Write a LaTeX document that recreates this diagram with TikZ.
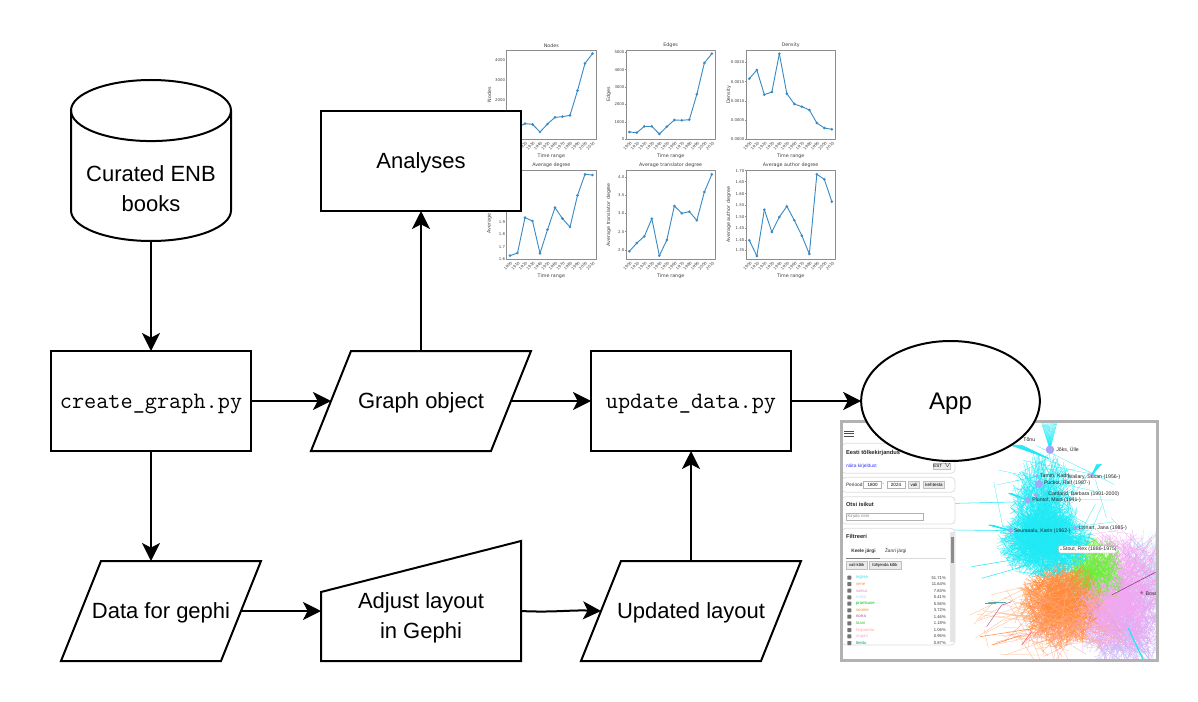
\documentclass[tikz,border=0pt]{standalone}
\usepackage{fontspec}
\setmainfont{Liberation Sans}
\newfontfamily\plotfont{DejaVu Sans}
\usetikzlibrary{
    arrows.meta,
    positioning,
    shapes.geometric
}
\definecolor{plotblue}{HTML}{3A8BC4}
\definecolor{axisgray}{HTML}{8C8C8C}
\definecolor{cardgray}{HTML}{DDDDDD}
\definecolor{netcyan}{HTML}{1FE9F5}
\definecolor{netorange}{HTML}{FF8A3C}
\definecolor{netgreen}{HTML}{6CF03A}
\definecolor{netpink}{HTML}{F2A6F0}
\definecolor{netviolet}{HTML}{C9B6F5}
\definecolor{netblue}{HTML}{B5DDF5}
\definecolor{netnode}{HTML}{A9A6F7}
\tikzset{
    every picture/.style = {
        > = {Stealth[length = 13.5pt, width = 13.5pt, inset = 3.5pt]},
        line width = 1.5pt
    },
    every node/.style = {
        inner sep = 0pt,
        outer sep = 0pt,
        align = center
    },
    procbox/.style = {
        draw,
        fill = white,
        minimum width = 150pt,
        minimum height = 75pt
    },
    iobox/.style = {
        minimum height = 75pt,
        text depth = 0pt,
        append after command = {
            \pgfextra{
                \draw[line join = miter] ([xshift = 15pt]\tikzlastnode.north west)
                    -- ([xshift = 15pt]\tikzlastnode.north east)
                    -- ([xshift = -15pt]\tikzlastnode.south east)
                    -- ([xshift = -15pt]\tikzlastnode.south west) -- cycle;
            }
        }
    },
    drumbox/.style = {
        minimum width = 120pt,
        minimum height = 120.75pt,
        append after command = {
            \pgfextra{
                \draw ([yshift = -22.9pt]\tikzlastnode.north west)
                    arc[start angle = 180, end angle = 0, x radius = 60pt, y radius = 22.9pt]
                    -- ([yshift = 22.9pt]\tikzlastnode.south east)
                    arc[start angle = 0, end angle = -180, x radius = 60pt, y radius = 22.9pt] -- cycle;
                \draw ([yshift = -22.9pt]\tikzlastnode.north west)
                    arc[start angle = 180, end angle = 360, x radius = 60pt, y radius = 22.9pt];
            }
        }
    },
    boxtext/.style = {font = \fontsize{16.5}{22.5}\selectfont},
    codetext/.style = {font = \fontsize{17.7}{18}\selectfont\ttfamily, text depth = 0pt},
    axisline/.style = {draw = axisgray, line width = .6pt},
    plotline/.style = {draw = plotblue, line width = .7pt},
    plotlabel/.style = {font = \fontsize{3.6}{4}\selectfont\plotfont, text = black!75},
    ticklabel/.style = {font = \fontsize{2.9}{3}\selectfont\plotfont, text = black!75},
    card/.style = {draw = cardgray, fill = white, line width = .6pt, rounded corners = 3pt},
    uibutton/.style = {draw = black!25, fill = black!8, line width = .4pt},
    uitext/.style = {font = \fontsize{3.6}{4}\selectfont, text = black!80, anchor = west},
    uibold/.style = {font = \fontsize{4.3}{5}\selectfont\bfseries, text = black!85, anchor = west},
    netlabel/.style = {font = \fontsize{3.9}{4}\selectfont, text = black!85, anchor = west}
}
% one small line chart, in the coordinates of the crop
\newcommand{\lineplot}[7]{
    \draw[axisline] (#2,#3) rectangle +(268,268);
    \node[plotlabel] (title#1) at ({#2+134},{#3-14}) {#4};
    \node[plotlabel] (xlabel#1) at ({#2+134},{#3+318}) {Time range};
    \node[plotlabel, rotate = 90] (ylabel#1) at ({#2-52},{#3+134}) {#5};
    \foreach \ypos [count = \k from 0] in {#6} {
        \coordinate (p#1-\k) at ({#2+10+22.5*\k},\ypos);
        \pgfmathtruncatemacro{\yearval}{1900+10*\k}
        \draw[axisline] ({#2+10+22.5*\k},{#3+268}) -- +(0,3);
        \node[ticklabel, rotate = 45, anchor = north east] (yr#1-\k) at ({#2+12+22.5*\k},{#3+274}) {\yearval};
    }
    \foreach \k in {1,...,11} {
        \pgfmathtruncatemacro{\j}{\k-1}
        \draw[plotline] (p#1-\j) -- (p#1-\k);
    }
    \foreach \k in {0,...,11} {
        \fill[plotblue] (p#1-\k) circle (1.1pt);
    }
    \foreach \tky/\tklbl in {#7} {
        \draw[axisline] (#2,\tky) -- +(-3,0);
        \node[ticklabel, anchor = east] (tick#1-\tklbl) at ({#2-5},\tky) {\tklbl};
    }
}
% a bundle of random edges of the network
\newcommand{\netburst}[6]{
    \foreach \k in {1,...,#6} {
        \pgfmathsetmacro{\anga}{360*rnd}
        \pgfmathsetmacro{\rada}{rnd^.8}
        \pgfmathsetmacro{\angb}{360*rnd}
        \pgfmathsetmacro{\radb}{rnd^.6}
        \draw[#1, line width = .18pt] ({#2+#4*\rada*cos(\anga)},{#3+#5*\rada*sin(\anga)})
            -- ({#2+#4*\radb*cos(\angb)},{#3+#5*\radb*sin(\angb)});
    }
}
\newcommand{\netfan}[6]{
    \foreach \k in {0,...,14} {
        \draw[#1, line width = .3pt] (#2,#3) -- ({#4+(#5-#4)*\k/14},#6);
    }
}
\begin{document}
\begin{tikzpicture}[x = .75pt, y = -.75pt]
    \useasboundingbox (0,0) rectangle (1198,702);

    % the six charts
    \begin{scope}[shift = {(470,30)}, x = .25pt, y = -.25pt]
        \lineplot{a}{110}{60}{Nodes}{Nodes}{290,292,281,283,306,282,262,260,256,182,100,71}{91/4000,151/3000,209/2000}
        \lineplot{b}{468}{60}{Edges}{Edges}{306,308,289,289,312,290,270,271,269,193,99,71}{67/5000,119/4000,171/3000,223/2000,276/1000,328/0}
        \lineplot{c}{828}{60}{Density}{Density}{146,120,194,186,71,191,222,230,240,279,294,298}{97/0.0020,155/0.0015,213/0.0010,271/0.0005,328/0.0000}
        \lineplot{d}{110}{420}{Average degree}{Average degree}{677,669,563,573,670,599,533,566,591,496,433,435}{575/1.9,612/1.8,650/1.7,687/1.6}
        \lineplot{e}{468}{420}{Average translator degree}{Average translator degree}{664,639,619,566,677,630,528,550,545,571,486,433}{441/4.0,496/3.5,550/3.0,605/2.5,660/2.0}
        \lineplot{f}{828}{420}{Average author degree}{Average author degree}{631,678,539,606,561,529,571,617,672,433,448,515}{422/1.70,455/1.65,491/1.60,525/1.55,560/1.50,594/1.45,630/1.40,661/1.35}
    \end{scope}

    % the app screenshot
    \begin{scope}[shift = {(835,415)}, x = .25pt, y = -.25pt]
        \pgfmathsetseed{7}
        \begin{scope}
            \clip (20,20) rectangle (965,735);
            \netburst{netblue}{930}{470}{90}{130}{110}
            \netburst{netviolet}{870}{630}{140}{150}{320}
            \netburst{netpink}{860}{530}{150}{190}{420}
            \netburst{netpink}{880}{540}{220}{240}{60}
            \netburst{netgreen}{775}{470}{100}{110}{300}
            \netburst{netorange}{680}{565}{130}{135}{620}
            \netburst{netorange!70}{650}{620}{250}{135}{80}
            \netburst{red!40}{660}{640}{230}{100}{30}
            \netburst{netpink}{800}{590}{90}{110}{90}
            \netburst{netcyan}{625}{295}{105}{190}{420}
            \netburst{netcyan}{630}{385}{150}{105}{700}
            \netburst{netcyan}{640}{270}{210}{190}{30}
            \netfan{netcyan}{645}{104}{620}{665}{25}
            \netfan{netcyan}{578}{256}{520}{530}{235}
            \netfan{netcyan}{527}{347}{460}{472}{330}
            \netfan{netcyan}{770}{180}{785}{800}{148}
            \netfan{netcyan}{640}{130}{525}{560}{90}
            \netfan{teal!70}{510}{562}{450}{455}{565}
            \draw[netcyan, line width = .4pt] (578,260) -- (360,265);
            \draw[netcyan, line width = .4pt] (527,347) -- (362,345);
            \draw[netcyan, line width = .4pt] (560,430) -- (410,455);
            \draw[netcyan, line width = .4pt] (580,450) -- (440,490);
            \draw[netcyan, line width = .9pt] (880,640) -- (925,735);
            \draw[netorange, line width = .4pt] (600,640) -- (435,665);
            \draw[netorange, line width = .4pt] (560,660) -- (470,690);
            \draw[red!60, line width = .5pt] (590,650) -- (560,690);
            \draw[violet!60, line width = .4pt] (455,635) -- (500,570) -- (530,560);
            \draw[violet!50!gray, line width = .4pt] (830,540) -- (965,470);
            \fill[netnode] (645,104) circle (3.2pt);
            \fill[netnode] (605,183) circle (1.4pt);
            \fill[netnode] (770,180) circle (1.4pt);
            \fill[netnode] (612,207) circle (3pt);
            \fill[netnode] (603,240) circle (1.5pt);
            \fill[netnode] (578,256) circle (2.2pt);
            \fill[netnode] (527,347) circle (1.7pt);
            \fill[netnode] (720,339) circle (1.5pt);
            \fill[violet!60] (920,533) circle (1.3pt);
            \node[netlabel] (lblt) at (565,75) {Tõnu};
            \node[netlabel] (lbla) at (664,103) {Jõks, Ülle};
            \node[netlabel] (lblb) at (615,183) {Tamm, Kadri};
            \node[netlabel] (lblc) at (698,187) {Wallary, Susan (1956-)};
            \node[netlabel] (lbld) at (627,205) {Puckot, Ralf (1987-)};
            \node[netlabel] (lble) at (640,238) {Cartland, Barbara (1901-2000)};
            \node[netlabel] (lblf) at (592,256) {Pluntof, Maia (1941-)};
            \node[netlabel] (lblg) at (537,348) {Seurasalu, Karin (1962-)};
            \node[netlabel] (lblh) at (731,340) {Linnart, Jana (1985-)};
            \node[netlabel] (lbli) at (932,535) {Bosc};
            \node[netlabel, draw = black!30, fill = white, line width = .3pt, rounded corners = 1.5pt,
                minimum width = 44pt, minimum height = 5.5pt, align = right] (lblj) at (670,403) {\hspace{3pt}Stout, Rex (1886-1975)};
            \fill[netcyan] (678,403) circle (.7pt);
        \end{scope}
        % left panel
        \draw[black!70, line width = .6pt] (28,48) -- (57,48) (28,55) -- (57,55) (28,63) -- (57,63);
        \draw[card] (20,85) rectangle (360,175);
        \draw[card] (20,187) rectangle (360,232);
        \draw[card] (20,245) rectangle (360,327);
        \draw[card] (20,340) rectangle (360,690);
        \node[uibold] (apptitle) at (33,115) {Eesti tõlkekirjandus};
        \node[uitext, text = blue!80] (applink) at (33,153) {näita kirjeldust};
        \node[uibutton, minimum width = 12pt, minimum height = 4.6pt, font = \fontsize{3.4}{4}\selectfont] (applang) at (321,153) {EST \,\tiny$\vee$};
        \node[uitext] (appperiod) at (33,210) {Periood:};
        \node[draw = black!30, fill = white, line width = .4pt, minimum width = 13.5pt, minimum height = 5pt, font = \fontsize{3.4}{4}\selectfont] (appfrom) at (113,210) {1800};
        \node[uitext] (appdash) at (143,210) {-};
        \node[draw = black!30, fill = white, line width = .4pt, minimum width = 13.5pt, minimum height = 5pt, font = \fontsize{3.4}{4}\selectfont] (appto) at (183,210) {2024};
        \node[uibutton, minimum width = 8.5pt, minimum height = 5pt, font = \fontsize{3.4}{4}\selectfont] (appvali) at (237,210) {vali};
        \node[uibutton, minimum width = 16pt, minimum height = 5pt, font = \fontsize{3.4}{4}\selectfont] (appkeht) at (297,210) {kehtesta};
        \node[uibold] (appsearch) at (33,269) {Otsi isikut};
        \node[draw = black!30, fill = white, line width = .4pt, minimum width = 58pt, minimum height = 5.4pt, text = black!50, font = \fontsize{3.2}{4}\selectfont, text width = 56pt, align = left] (appname) at (150,305) {Kirjuta nimi};
        \node[uibold] (appfilter) at (33,364) {Filtreeri};
        \node[uitext, font = \fontsize{3.6}{4}\selectfont\bfseries] (applangtab) at (49,408) {Keele järgi};
        \node[uitext] (appgenre) at (150,408) {Žanri järgi};
        \draw[black!15, line width = .4pt] (33,429) -- (332,429);
        \draw[black!50, line width = .7pt] (33,429) -- (135,429);
        \node[uibutton, minimum width = 16pt, minimum height = 5.8pt, font = \fontsize{3.2}{4}\selectfont] (appall) at (65,451) {vali kõik};
        \node[uibutton, minimum width = 24pt, minimum height = 5.8pt, font = \fontsize{3.2}{4}\selectfont] (appnone) at (150,451) {tühjenda kõik};
        \foreach \rowy/\rowname/\rowcol/\rowval [count = \r] in {
            488/inglise/netcyan/51.71\%,
            507/vene/netorange/11.64\%,
            527/saksa/magenta!50/7.83\%,
            547/rootsi/netblue/5.41\%,
            566/prantsuse/green!75!black/5.56\%,
            586/soome/orange!90/3.72\%,
            605/norra/violet!70/1.46\%,
            625/taani/green!50!gray/1.18\%,
            645/hispaania/red!35/1.06\%,
            664/ungari/magenta!35/0.95\%,
            684/leedu/teal!70!green/0.87\%} {
            \fill[black!55, rounded corners = .4pt] (37,{\rowy-6}) rectangle +(12,12);
            \node[uitext, text = \rowcol, font = \fontsize{3.2}{4}\selectfont] (row\r) at (63,\rowy) {\rowname};
            \node[uitext, anchor = east, font = \fontsize{3.1}{4}\selectfont] (val\r) at (332,\rowy) {\rowval};
        }
        \fill[black!10] (346,350) rectangle (359,682);
        \fill[black!45] (348,365) rectangle (357,445);
        \draw[black!30, line width = 2.25pt] (20,20) rectangle (967,736);
    \end{scope}

    % the flow chart
    \node[drumbox, boxtext, text height = 76.8pt] (books) at (151,160.5) {Curated ENB\\books};
    \node[procbox, boxtext, text depth = 0pt] (analyses) at (421,161) {Analyses};
    \node[procbox, codetext] (creategraph) at (151,401) {create\_graph.py};
    \node[iobox, minimum width = 135pt, boxtext] (graphobj) at (421,401) {Graph object};
    \node[procbox, codetext] (updatedata) [right of = graphobj, node distance = 202.5pt] {update\_data.py};
    \node[ellipse, draw, fill = white, minimum width = 134pt, minimum height = 90pt, text depth = 0pt,
        font = \fontsize{18}{22}\selectfont] (app) at (950.5,401) {App};
    \node[iobox, minimum width = 120pt, boxtext] (datagephi) at (161,611) {Data for gephi};
    \node[minimum width = 150pt, minimum height = 75pt, boxtext, text height = 44.5pt] (adjustgephi) at (421,611) {Adjust layout\\in Gephi};
    \draw[line join = miter] (adjustgephi.south west) -- (adjustgephi.south east)
        -- ([yshift = 15pt]adjustgephi.north east) -- ([yshift = -23.25pt]adjustgephi.north west) -- cycle;
    \node[iobox, minimum width = 135pt, boxtext] (updatedlayout) at (691,611) {Updated layout};

    \draw[->] (books) -- (creategraph);
    \draw[->] (creategraph) -- (graphobj);
    \draw[->] (creategraph) -- (creategraph |- datagephi.north);
    \draw[->] (graphobj) -- (analyses);
    \draw[->] (graphobj) -- (updatedata);
    \draw[->] (updatedata) -- (app);
    \draw[->] (datagephi) -- (adjustgephi);
    \draw[->] (adjustgephi.east) to[out = -3, in = 178] (updatedlayout.west);
    \draw[->] (updatedlayout) -- (updatedata);
\end{tikzpicture}
\end{document}
